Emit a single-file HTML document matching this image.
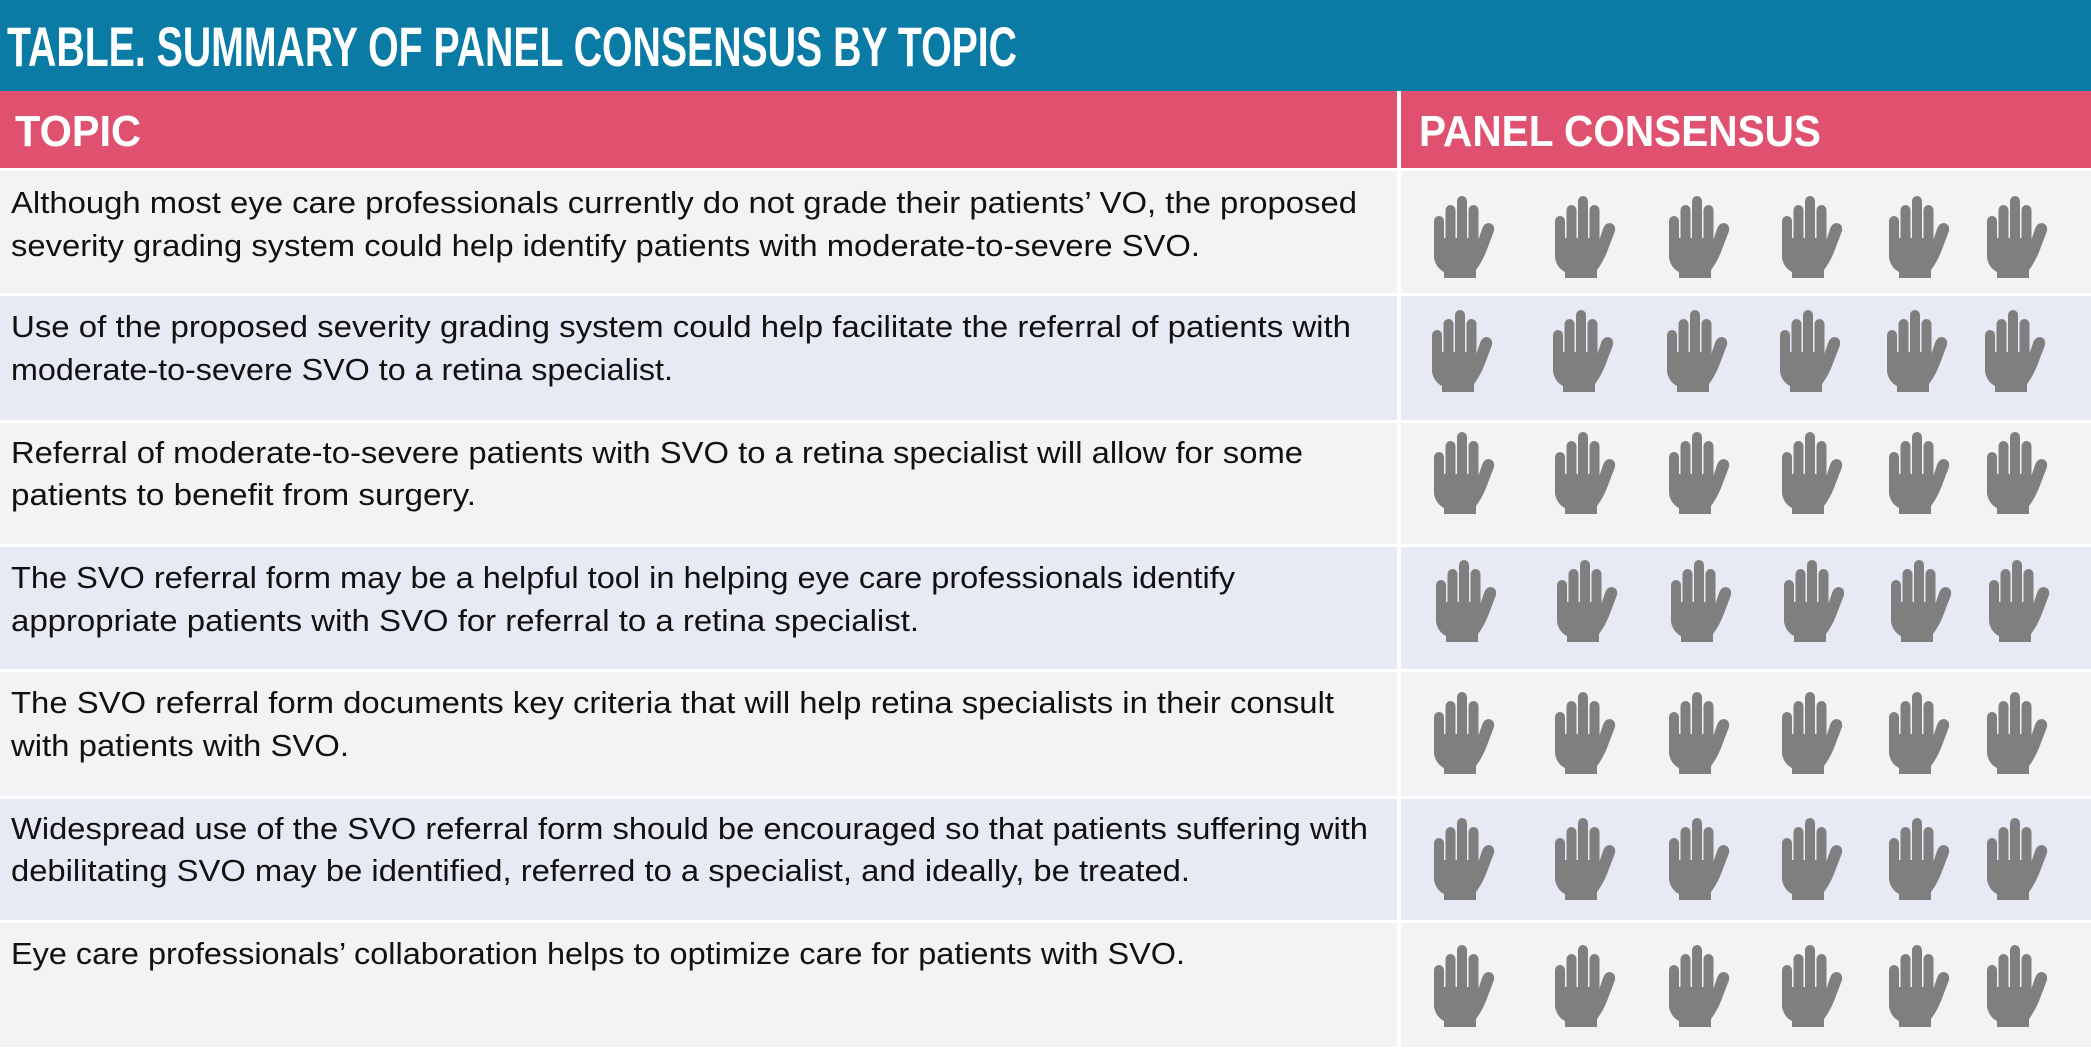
<!DOCTYPE html>
<html><head><meta charset="utf-8"><style>
html,body{margin:0;padding:0;background:#fff;}
svg{display:block;}
</style></head><body>
<svg width="2091" height="1053" viewBox="0 0 2091 1053" xmlns="http://www.w3.org/2000/svg">
<defs>
<g id="hand" fill="#7f7f7f">
  <rect x="0" y="20" width="10" height="40" rx="5"/>
  <rect x="11.5" y="9" width="10" height="45" rx="5"/>
  <rect x="23" y="0" width="10" height="52" rx="5"/>
  <rect x="34.5" y="9" width="10" height="45" rx="5"/>
  <path d="M0 42 L0 62 Q2 72 10 76 L10 82 L42 82 L42 74 Q48 66 52 56 L60 35 Q61 28 55 27 Q50 27 48 33 L44 45 L44 42 Z"/>
</g>
</defs>
<rect x="0" y="0" width="2091" height="1053" fill="#ffffff"/>
<rect x="0" y="0" width="2091" height="91" fill="#0a7ba4"/>
<text x="7" y="66" font-family="Liberation Sans, sans-serif" font-weight="bold" font-size="56" fill="#fff" textLength="1010" lengthAdjust="spacingAndGlyphs">TABLE. SUMMARY OF PANEL CONSENSUS BY TOPIC</text>
<rect x="0" y="91" width="2091" height="77" fill="#e0516f"/>
<rect x="1397" y="91" width="4" height="956" fill="#ffffff"/>
<text x="15" y="146" font-family="Liberation Sans, sans-serif" font-weight="bold" font-size="44" fill="#fff" textLength="126" lengthAdjust="spacingAndGlyphs">TOPIC</text>
<text x="1419" y="146" font-family="Liberation Sans, sans-serif" font-weight="bold" font-size="44" fill="#fff" textLength="402" lengthAdjust="spacingAndGlyphs">PANEL CONSENSUS</text>

<g>
<rect x="0" y="171" width="1397" height="122" fill="#f2f3f4"/><rect x="1401" y="171" width="690" height="122" fill="#f2f3f4"/>
<rect x="0" y="296" width="1397" height="124" fill="#e7e9f5"/><rect x="1401" y="296" width="690" height="124" fill="#e7e9f5"/>
<rect x="0" y="423" width="1397" height="121" fill="#f2f3f4"/><rect x="1401" y="423" width="690" height="121" fill="#f2f3f4"/>
<rect x="0" y="547" width="1397" height="122" fill="#e7e9f5"/><rect x="1401" y="547" width="690" height="122" fill="#e7e9f5"/>
<rect x="0" y="672" width="1397" height="124" fill="#f2f3f4"/><rect x="1401" y="672" width="690" height="124" fill="#f2f3f4"/>
<rect x="0" y="799" width="1397" height="121" fill="#e7e9f5"/><rect x="1401" y="799" width="690" height="121" fill="#e7e9f5"/>
<rect x="0" y="923" width="1397" height="124" fill="#f2f3f4"/><rect x="1401" y="923" width="690" height="124" fill="#f2f3f4"/>
</g>

<g font-family="Liberation Sans, sans-serif" font-size="31" fill="#111" lengthAdjust="spacingAndGlyphs">
<text x="11" y="213" textLength="1346" lengthAdjust="spacingAndGlyphs">Although most eye care professionals currently do not grade their patients’ VO, the proposed</text>
<text x="11" y="256" textLength="1189" lengthAdjust="spacingAndGlyphs">severity grading system could help identify patients with moderate-to-severe SVO.</text>
<text x="11" y="337" textLength="1340" lengthAdjust="spacingAndGlyphs">Use of the proposed severity grading system could help facilitate the referral of patients with</text>
<text x="11" y="380" textLength="662" lengthAdjust="spacingAndGlyphs">moderate-to-severe SVO to a retina specialist.</text>
<text x="11" y="463" textLength="1292" lengthAdjust="spacingAndGlyphs">Referral of moderate-to-severe patients with SVO to a retina specialist will allow for some</text>
<text x="11" y="505" textLength="465" lengthAdjust="spacingAndGlyphs">patients to benefit from surgery.</text>
<text x="11" y="588" textLength="1224" lengthAdjust="spacingAndGlyphs">The SVO referral form may be a helpful tool in helping eye care professionals identify</text>
<text x="11" y="631" textLength="908" lengthAdjust="spacingAndGlyphs">appropriate patients with SVO for referral to a retina specialist.</text>
<text x="11" y="713" textLength="1323" lengthAdjust="spacingAndGlyphs">The SVO referral form documents key criteria that will help retina specialists in their consult</text>
<text x="11" y="756" textLength="338" lengthAdjust="spacingAndGlyphs">with patients with SVO.</text>
<text x="11" y="839" textLength="1357" lengthAdjust="spacingAndGlyphs">Widespread use of the SVO referral form should be encouraged so that patients suffering with</text>
<text x="11" y="881" textLength="1179" lengthAdjust="spacingAndGlyphs">debilitating SVO may be identified, referred to a specialist, and ideally, be treated.</text>
<text x="11" y="964" textLength="1174" lengthAdjust="spacingAndGlyphs">Eye care professionals’ collaboration helps to optimize care for patients with SVO.</text>
</g>

<g>
<use href="#hand" x="1434" y="196"/><use href="#hand" x="1555" y="196"/><use href="#hand" x="1669" y="196"/><use href="#hand" x="1782" y="196"/><use href="#hand" x="1889" y="196"/><use href="#hand" x="1987" y="196"/>
<use href="#hand" x="1432" y="310"/><use href="#hand" x="1553" y="310"/><use href="#hand" x="1667" y="310"/><use href="#hand" x="1780" y="310"/><use href="#hand" x="1887" y="310"/><use href="#hand" x="1985" y="310"/>
<use href="#hand" x="1434" y="432"/><use href="#hand" x="1555" y="432"/><use href="#hand" x="1669" y="432"/><use href="#hand" x="1782" y="432"/><use href="#hand" x="1889" y="432"/><use href="#hand" x="1987" y="432"/>
<use href="#hand" x="1436" y="560"/><use href="#hand" x="1557" y="560"/><use href="#hand" x="1671" y="560"/><use href="#hand" x="1784" y="560"/><use href="#hand" x="1891" y="560"/><use href="#hand" x="1989" y="560"/>
<use href="#hand" x="1434" y="692"/><use href="#hand" x="1555" y="692"/><use href="#hand" x="1669" y="692"/><use href="#hand" x="1782" y="692"/><use href="#hand" x="1889" y="692"/><use href="#hand" x="1987" y="692"/>
<use href="#hand" x="1434" y="818"/><use href="#hand" x="1555" y="818"/><use href="#hand" x="1669" y="818"/><use href="#hand" x="1782" y="818"/><use href="#hand" x="1889" y="818"/><use href="#hand" x="1987" y="818"/>
<use href="#hand" x="1434" y="945"/><use href="#hand" x="1555" y="945"/><use href="#hand" x="1669" y="945"/><use href="#hand" x="1782" y="945"/><use href="#hand" x="1889" y="945"/><use href="#hand" x="1987" y="945"/>
</g>
</svg>
</body></html>
